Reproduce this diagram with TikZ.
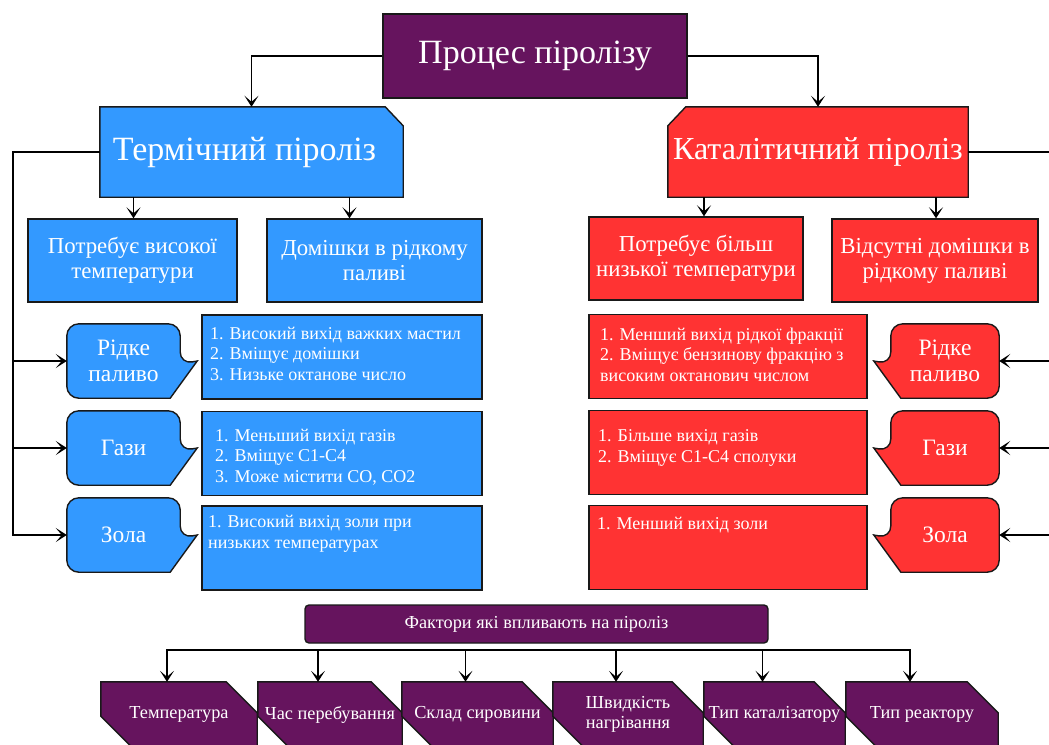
\documentclass[tikz,border=0pt]{standalone}
\usepackage{fontspec}
\setmainfont{Liberation Serif}
\usetikzlibrary{arrows.meta,calc}

\definecolor{procpurple}{RGB}{102,20,94}
\definecolor{thermblue}{RGB}{51,153,255}
\definecolor{catred}{RGB}{255,51,51}

\pgfdeclarelayer{bg}
\pgfsetlayers{bg,main}

\tikzset{
  block/.style={draw=black!90, line width=1.4pt, text=white, align=center, inner sep=0pt},
  outline/.style={draw=black!90, line width=1.4pt},
  head/.style={rectangle, text=white, inner sep=0pt, minimum height=90pt},
  sub/.style={block, rectangle, minimum height=83pt, font=\fontsize{22.8}{25}\selectfont},
  list/.style={block, rectangle, minimum height=84pt},
  listtext/.style={text=white, align=left, anchor=base west, inner sep=0pt,
    font=\fontsize{18}{20.5}\selectfont},
  bubbletext/.style={rectangle, inner sep=0pt, minimum height=74pt,
    text=white, align=center, font=\fontsize{23.5}{26}\selectfont},
  factor/.style={rectangle, inner sep=0pt, text=white, align=center, minimum height=65pt,
    font=\fontsize{18.3}{20}\selectfont},
  link/.style={draw=black, line width=1.5pt, -{Stealth[length=11pt,width=14pt,inset=6pt]}},
}

\begin{document}
\begin{tikzpicture}[x=1pt,y=-1pt]
  \useasboundingbox (0,0) rectangle (1049,744);
  \clip (0,0) rectangle (1049,744);

  % Top
  \node[block, rectangle, fill=procpurple, minimum width=304pt, minimum height=84pt,
    font=\fontsize{34}{40}\selectfont] (proc) at (535,56) {Процес піролізу};
  \node[head, minimum width=303pt, font=\fontsize{34}{40}\selectfont] (therm) at (251.5,152)
    {\makebox[0pt]{\hspace*{-14pt}Термічний піроліз}};
  \node[head, minimum width=300pt, font=\fontsize{32}{38}\selectfont] (cat) at (818,152) {Каталітичний піроліз};
  \begin{pgfonlayer}{bg}
    \draw[outline, fill=thermblue] (therm.south west) -- (therm.north west) -- ([xshift=-18pt]therm.north east)
      -- ([yshift=-19pt]therm.north east) -- (therm.south east) -- cycle;
    \draw[outline, fill=catred] (cat.south west) -- ([yshift=-19pt]cat.north west) -- ([xshift=18pt]cat.north west)
      -- (cat.north east) -- (cat.south east) -- cycle;
  \end{pgfonlayer}

  \node[sub, fill=thermblue, minimum width=209pt] (tsub1) at (132.5,260.5) {Потребує високої\\температури};
  \node[sub, fill=thermblue, minimum width=215pt] (tsub2) at (374.5,260.5) {Домішки в рідкому\\паливі};
  \node[sub, fill=catred, minimum width=214pt] (csub1) at (696,258.5) {Потребує більш\\низької температури};
  \node[sub, fill=catred, minimum width=206pt] (csub2) at (935,260.5) {Відсутні домішки в\\рідкому паливі};

  % Edges
  \draw[link] (proc.west) -| (therm.north);
  \draw[link] (proc.east) -| (cat.north);
  \draw[link] ([xshift=-118pt]therm.south) coordinate (a1) -- (a1 |- tsub1.north);
  \draw[link] ([xshift=98pt]therm.south) coordinate (a2) -- (a2 |- tsub2.north);
  \draw[link] ([xshift=-114pt]cat.south) coordinate (a3) -- (a3 |- csub1.north);
  \draw[link] ([xshift=118pt]cat.south) coordinate (a4) -- (a4 |- csub2.north);

  % Bubbles, thermal side
  \foreach \n/\y/\t in {rp/361/{Рідке\\паливо}, gz/448/Гази, zl/535/Зола} {
    \node[bubbletext, minimum width=113pt] (\n) at (123.5,\y) {\t};
    \begin{pgfonlayer}{bg}
      \draw[outline, fill=thermblue] (\n.north) [rounded corners=12pt] -- (\n.north east)
        -- ([yshift=-3pt]\n.east) [sharp corners] -- ++(17,-3)
        -- ([xshift=-10pt]\n.south east) [rounded corners=12pt] -- (\n.south west)
        -- (\n.north west) -- cycle;
    \end{pgfonlayer}
  }
  % Bubbles, catalytic side
  \foreach \n/\y/\t in {crp/361/{Рідке\\паливо}, cgz/448/Гази, czl/535/Зола} {
    \node[bubbletext, minimum width=108pt] (\n) at (945,\y) {\t};
    \begin{pgfonlayer}{bg}
      \draw[outline, fill=catred] (\n.north) [rounded corners=12pt] -- (\n.north west)
        -- ([yshift=-3pt]\n.west) [sharp corners] -- ++(-17,-3)
        -- ([xshift=10pt]\n.south west) [rounded corners=12pt] -- (\n.south east)
        -- (\n.north east) -- cycle;
    \end{pgfonlayer}
  }

  \draw[link] (therm.west) -- ++(-87,0) coordinate (lbus) |- (rp.west);
  \draw[link] (lbus) |- (gz.west);
  \draw[link] (lbus) |- (zl.west);
  \draw[link] (cat.east) -- ++(90,0) coordinate (rbus) |- (crp.east);
  \draw[link] (rbus) |- (cgz.east);
  \draw[link] (rbus) |- (czl.east);

  % Lists
  \node[list, fill=thermblue, minimum width=280pt] (tl1) at (342,357) {};
  \node[list, fill=thermblue, minimum width=280pt] (tl2) at (342,453.5) {};
  \node[list, fill=thermblue, minimum width=280pt] (tl3) at (342,548) {};
  \node[listtext] (tl1t) at (210,380) {1. Високий вихід важких мастил\\2. Вміщує домішки\\3. Низьке октанове число};
  \node[listtext] (tl2t) at (215,482) {1. Меньший вихід газів\\2. Вміщує C1-C4\\3. Може містити CO, CO2};
  \node[listtext] (tl3t) at (208,548) {1. Високий вихід золи при\\низьких температурах};

  \node[list, fill=catred, minimum width=278pt] (cl1) at (728,356.5) {};
  \node[list, fill=catred, minimum width=278pt] (cl2) at (728,452.5) {};
  \node[list, fill=catred, minimum width=278pt] (cl3) at (728,547.5) {};
  \node[listtext] (cl1t) at (600,381) {1. Менший вихід рідкої фракції\\2. Вміщує бензинову фракцію з\\високим октанович числом};
  \node[listtext] (cl2t) at (598,462) {1. Більше вихід газів\\2. Вміщує C1-C4 сполуки};
  \node[listtext] (cl3t) at (597,529) {1. Менший вихід золи};

  % Factors
  \node[block, rectangle, rounded corners=4pt, fill=procpurple, minimum width=463pt, minimum height=38pt,
    font=\fontsize{18.3}{20}\selectfont] (fact) at (536.5,624) {Фактори які впливають на піроліз};
  \foreach \n/\x/\w/\t in {f1/179/156/Температура, f2/330/144/Час перебування, f3/477.5/151/Склад сировини,
      f4/628/150/{Швидкість\\нагрівання}, f5/774.5/141/Тип каталізатору, f6/922/152/Тип реактору} {
    \node[factor, minimum width=\w pt] (\n) at (\x,714.5) {\t};
    \begin{pgfonlayer}{bg}
      \draw[outline, fill=procpurple] (\n.north west) -- ([xshift=-31pt]\n.north east)
        -- ([yshift=-31pt]\n.north east) -- (\n.south east) -- ([xshift=31pt]\n.south west)
        -- ([yshift=31pt]\n.south west) -- cycle;
    \end{pgfonlayer}
  }

  \coordinate (bus) at (536.5,650);
  \foreach \n in {f1,f2,f3,f4,f5,f6}
    \draw[link] (bus) -| ([xshift=-12pt]\n.north);
\end{tikzpicture}
\end{document}
